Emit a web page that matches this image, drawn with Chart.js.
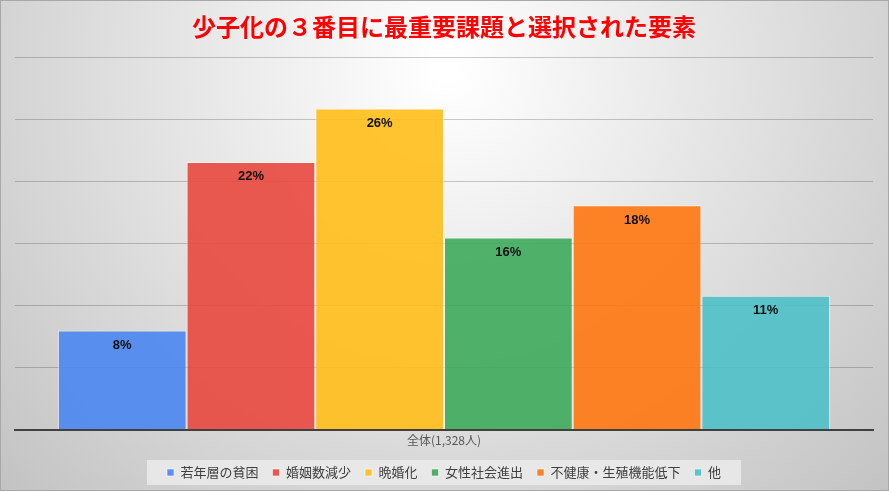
<!DOCTYPE html>
<html>
<head>
<meta charset="utf-8">
<script src="https://cdn.jsdelivr.net/npm/chart.js@4.4.1/dist/chart.umd.min.js"></script>
<style>
  html, body { margin: 0; padding: 0; background: #ffffff; }
  #wrap { width: 889px; height: 491px; }
</style>
</head>
<body>
<div id="wrap"><canvas id="myChart" width="889" height="491"></canvas></div>
<script>
var categories = ["全体(1,328人)"];
var seriesNames = ["若年層の貧困", "婚姻数減少", "晩婚化", "女性社会進出", "不健康・生殖機能低下", "他"];
var seriesValues = [8.0, 21.6, 25.9, 15.5, 18.1, 10.8];
var seriesColors = ["rgba(74,134,240,0.9)", "rgba(233,72,62,0.9)", "rgba(255,190,26,0.9)",
                    "rgba(62,170,91,0.9)", "rgba(255,119,16,0.9)", "rgba(76,192,199,0.9)"];

var datasets = [];
for (var i = 0; i < seriesNames.length; i++) {
  datasets.push({
    label: seriesNames[i],
    data: [seriesValues[i]],
    backgroundColor: seriesColors[i],
    borderColor: "rgba(255,255,255,0.55)",
    borderWidth: 1
  });
}

// gradient background + legend panel
var backdrop = {
  id: "backdrop",
  beforeDraw: function (chart) {
    var ctx = chart.ctx;
    var w = chart.width, h = chart.height;
    ctx.save();
    var g = ctx.createRadialGradient(445, 70, 10, 445, 70, 620);
    g.addColorStop(0, "#ffffff");
    g.addColorStop(1, "#c2c2c2");
    ctx.fillStyle = g;
    ctx.fillRect(0, 0, w, h);
    ctx.strokeStyle = "#a8a8a8";
    ctx.lineWidth = 1;
    ctx.strokeRect(0.5, 0.5, w - 1, h - 1);

    var boxes = chart.legend.legendHitBoxes;
    if (boxes && boxes.length) {
      var l = 1e9, r = -1e9, t = 1e9, b = -1e9;
      boxes.forEach(function (bx) {
        l = Math.min(l, bx.left); r = Math.max(r, bx.left + bx.width);
        t = Math.min(t, bx.top); b = Math.max(b, bx.top + bx.height);
      });
      ctx.fillStyle = "rgba(235,235,235,0.85)";
      ctx.fillRect(l - 20, t - 6, r - l + 40, b - t + 12);
    }
    ctx.restore();
  }
};

// percent labels inside bars
var valueLabels = {
  id: "valueLabels",
  afterDatasetsDraw: function (chart) {
    var ctx = chart.ctx;
    ctx.save();
    ctx.font = "bold 13px 'Liberation Sans', Arial, sans-serif";
    ctx.fillStyle = "#111111";
    ctx.textAlign = "center";
    ctx.textBaseline = "middle";
    chart.data.datasets.forEach(function (ds, i) {
      var meta = chart.getDatasetMeta(i);
      meta.data.forEach(function (bar, j) {
        ctx.fillText(Math.round(ds.data[j]) + "%", bar.x, bar.y + 15);
      });
    });
    ctx.restore();
  }
};

new Chart("myChart", {
  type: "bar",
  data: {
    labels: categories,
    datasets: datasets
  },
  options: {
    responsive: false,
    animation: false,
    categoryPercentage: 0.9,
    barPercentage: 1.0,
    layout: { padding: { left: 15, right: 16, bottom: 2 } },
    scales: {
      x: {
        grid: { display: false, drawTicks: false },
        border: { color: "#404040", width: 2 },
        ticks: { color: "#595959", font: { family: "'Noto Sans CJK JP'", size: 12 }, padding: 4 }
      },
      y: {
        min: 0,
        max: 30,
        ticks: { display: false, stepSize: 5 },
        border: { display: false },
        grid: { color: "rgba(0,0,0,0.2)", lineWidth: 1, drawTicks: false }
      }
    },
    plugins: {
      title: {
        display: true,
        text: "少子化の３番目に最重要課題と選択された要素",
        color: "#ff0000",
        font: { family: "'Noto Sans CJK JP'", size: 24, weight: "bold" },
        padding: { top: 12, bottom: 17 }
      },
      legend: {
        display: true,
        position: "bottom",
        labels: {
          boxWidth: 7,
          boxHeight: 7,
          padding: 14,
          color: "#404040",
          font: { family: "'Noto Sans CJK JP'", size: 13 }
        }
      },
      tooltip: { enabled: false }
    }
  },
  plugins: [backdrop, valueLabels]
});
</script>
</body>
</html>
